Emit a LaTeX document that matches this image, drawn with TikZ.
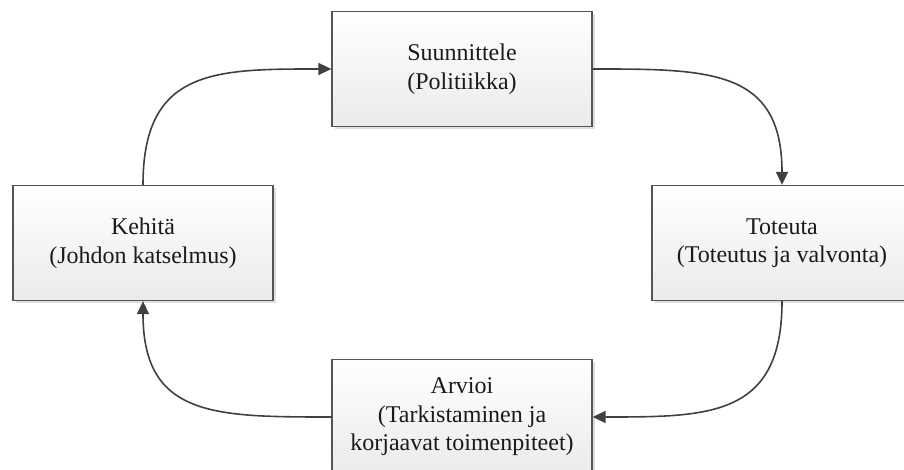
\documentclass[tikz,border=0pt]{standalone}
\usepackage{fontspec}
\setmainfont{Liberation Serif}
\usetikzlibrary{arrows.meta,shadows}
\definecolor{edgegray}{HTML}{404040}
\definecolor{boxline}{HTML}{555555}
\definecolor{textcol}{HTML}{1A1A1A}
\begin{document}
\begin{tikzpicture}[x=1pt,y=1pt,
  stagebox/.style={rectangle, minimum width=260pt, minimum height=115pt,
    draw=boxline, line width=1.3pt, top color=white, bottom color=black!8,
    drop shadow={shadow xshift=3pt, shadow yshift=-3pt, fill=black!25, opacity=0.5},
    align=center, text=textcol, font=\fontsize{24}{28.5}\selectfont, inner sep=0pt},
  flow/.style={draw=edgegray, line width=1.6pt,
    -{Triangle[length=13pt,width=12pt]}}]
\useasboundingbox (0,0) rectangle (904,470);
\clip (0,0) rectangle (904,470);

\node[stagebox] (plan) at (462,401) {Suunnittele\\(Politiikka)};
\node[stagebox] (do)   at (782,227) {Toteuta\\(Toteutus ja valvonta)};
\node[stagebox] (check) at (462,53) {Arvioi\\(Tarkistaminen ja\\korjaavat toimenpiteet)};
\node[stagebox] (act)  at (143,227) {Kehitä\\(Johdon katselmus)};

% cycle connectors: tight bend on the vertical side, long sweep on the horizontal side
\draw[flow] (act.north) .. controls (act.north |- plan.west)
  and ([xshift=-117pt]plan.west) .. (plan.west);
\draw[flow] (plan.east) .. controls ([xshift=117pt]plan.east)
  and (do.north |- plan.east) .. (do.north);
\draw[flow] (do.south) .. controls (do.south |- check.east)
  and ([xshift=117pt]check.east) .. (check.east);
\draw[flow] (check.west) .. controls ([xshift=-117pt]check.west)
  and (act.south |- check.west) .. (act.south);
\end{tikzpicture}
\end{document}
